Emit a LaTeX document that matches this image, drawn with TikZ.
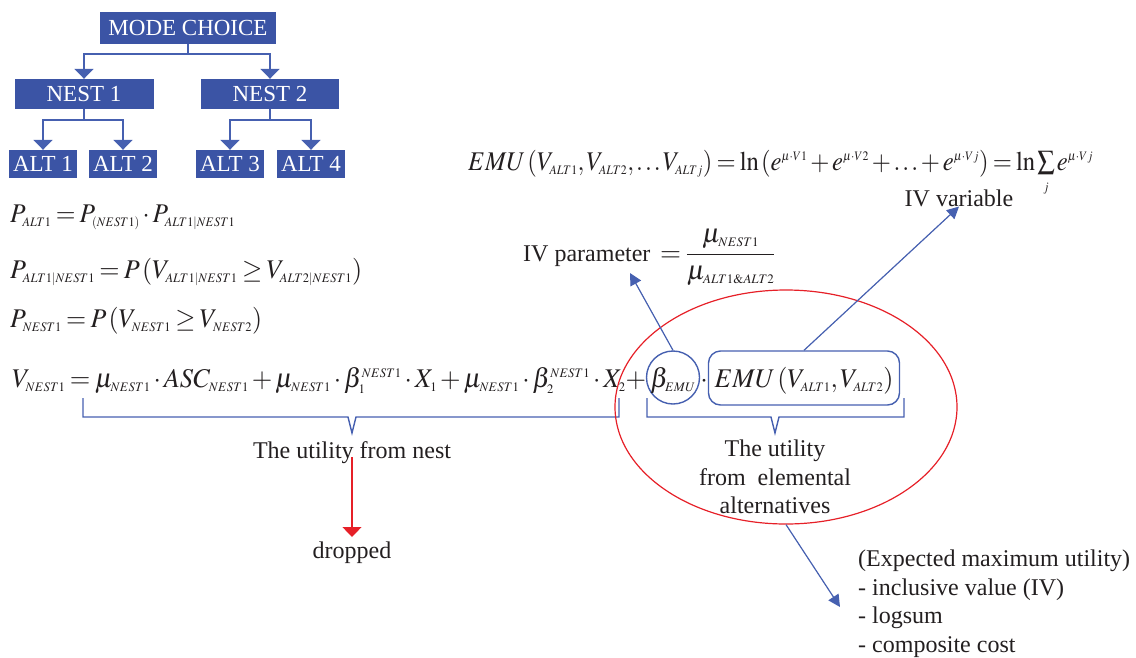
\documentclass[tikz,border=0pt]{standalone}
\usepackage{mathptmx}
\usepackage{graphicx}
\usepackage[no-math]{fontspec}
\setmainfont{Liberation Serif}
\usetikzlibrary{arrows.meta,shapes.geometric}
\DeclareMathSizes{27}{27}{13}{10}
\definecolor{boxblue}{RGB}{59,84,165}
\definecolor{lineblue}{RGB}{70,96,176}
\definecolor{txt}{RGB}{35,31,32}
\definecolor{myred}{RGB}{230,32,40}
\newcommand{\tightmath}{\thickmuskip=3mu\medmuskip=2mu\thinmuskip=1.5mu}
\newcommand{\fitw}[2]{\resizebox{#1}{\height}{#2}}
\begin{document}
\begin{tikzpicture}[x=1pt,y=-1pt,
  every node/.style={font=\fontsize{24}{28.5}\selectfont, text=txt, inner sep=0pt},
  treebox/.style={fill=boxblue, text=white, font=\fontsize{23}{27}\selectfont},
  tree/.style={draw=lineblue, line width=1.8pt, -{Triangle[width=19pt,length=10pt]}},
  thinarrow/.style={draw=lineblue, line width=1.2pt, -{Triangle[width=12pt,length=12pt]}},
  bracket/.style={draw=lineblue, line width=1.4pt},
  eq/.style={anchor=base west, font=\fontsize{27}{31}\selectfont\tightmath},
  mth/.style={font=\fontsize{27}{31}\selectfont\tightmath},
]
\useasboundingbox (0,0) rectangle (1136,657);
% tree
\node[treebox, minimum width=176, minimum height=32] (mc) at (188,28) {MODE CHOICE};
\node[treebox, minimum width=139, minimum height=30] (n1) at (84,94) {NEST 1};
\node[treebox, minimum width=138, minimum height=30] (n2) at (270,94) {NEST 2};
\node[treebox, minimum width=68, minimum height=28] (a1) at (43,164) {ALT 1};
\node[treebox, minimum width=68, minimum height=28] (a2) at (123,164) {ALT 2};
\node[treebox, minimum width=68, minimum height=28] (a3) at (230,164) {ALT 3};
\node[treebox, minimum width=68, minimum height=28] (a4) at (311,164) {ALT 4};
\draw[tree] (mc.south) -- ++(0,10) -| (n1.north);
\draw[tree] (mc.south) -- ++(0,10) -| (n2.north);
\draw[tree] (n1.south) -- ++(0,11) -| (a1.north);
\draw[tree] (n1.south) -- ++(0,11) -| (a2.north);
\draw[tree] (n2.south) -- ++(0,11) -| (a3.north);
\draw[tree] (n2.south) -- ++(0,11) -| (a4.north);
% left equations
\node[eq] (e1) at (10,222) {\fitw{225pt}{$P_{ALT1}=P_{(NEST1)}\cdot P_{ALT1|NEST1}$}};
\node[eq] (e2) at (10,278) {\fitw{352pt}{$P_{ALT1|NEST1}=P\left(V_{ALT1|NEST1}\geq V_{ALT2|NEST1}\right)$}};
\node[eq] (e3) at (10,327) {\fitw{252pt}{$P_{NEST1}=P\left(V_{NEST1}\geq V_{NEST2}\right)$}};
\node[eq] (e4) at (12,387) {\fitw{634pt}{$V_{NEST1}=\mu_{NEST1}\cdot ASC_{NEST1}+\mu_{NEST1}\cdot\beta_1^{NEST1}\cdot X_1+\mu_{NEST1}\cdot\beta_2^{NEST1}\cdot X_2+$}};
\node[mth, draw=lineblue, line width=1.4pt, circle, minimum size=53, text height=22, text depth=3, anchor=base] (beta) at (673,387) {$\beta_{EMU}$};
\node[mth, anchor=base] (dot) at (704,387) {$\cdot$};
\node[mth, draw=lineblue, line width=1.4pt, rounded corners=12pt, minimum width=191, text height=36, text depth=18, anchor=base] (emu) at (804,387) {\fitw{179pt}{$EMU\left(V_{ALT1},V_{ALT2}\right)$}};
% top equation
\node[eq] (etop) at (468,170) {\fitw{625pt}{$EMU\left(V_{ALT1},V_{ALT2},\ldots V_{ALTj}\right)=\ln\left(e^{\mu\cdot V1}+e^{\mu\cdot V2}+\ldots+e^{\mu\cdot Vj}\right)=\ln\sum\limits_{j}e^{\mu\cdot Vj}$}};
\node[anchor=base] (ivv) at (959,206) {IV variable};
% IV parameter
\node[anchor=base west] (ivp) at (523,261) {IV parameter};
\node[eq] (ivfrac) at (660,261) {$={\displaystyle\frac{\mu_{NEST1}}{\mu_{ALT1\&ALT2}}}$};
% braces
\draw[bracket] (83,398) -- (83,417) -- (348,417) -- (352,433) -- (356,417) -- (619,417) -- (619,398);
\draw[bracket] (647,398) -- (647,417) -- (771,417) -- (775,433) -- (779,417) -- (904,417) -- (904,398);
\node[anchor=base] (unest) at (352,458) {The utility from nest};
\node[align=center, anchor=north] (ualt) at (775,440) {The utility\\from\ \ elemental\\alternatives};
\node[anchor=base] (drop) at (352,558) {dropped};
% red ellipse
\node[draw=myred, line width=1.2pt, ellipse, minimum width=342, minimum height=234] (ell) at (786,407) {};
% arrows
\coordinate (rs) at ([yshift=6pt]unest.south);
\coordinate (rt) at (352,537);
\draw[draw=myred, fill=myred, line width=1.2pt, -{Triangle[width=19pt,length=10pt]}] (rs) -- (rt);
\coordinate (ivptip) at (630,273);
\draw[thinarrow, fill=lineblue] (beta.north) -- (ivptip);
\draw[thinarrow, fill=lineblue] (emu.north) -- (ivv.south);
\coordinate (exptip) at (840,607);
\draw[thinarrow, fill=lineblue] (ell.south) -- (exptip);
\node[align=left, anchor=north west] (exp) at (858,550) {(Expected maximum utility)\\- inclusive value (IV)\\- logsum\\- composite cost};
\end{tikzpicture}
\end{document}
